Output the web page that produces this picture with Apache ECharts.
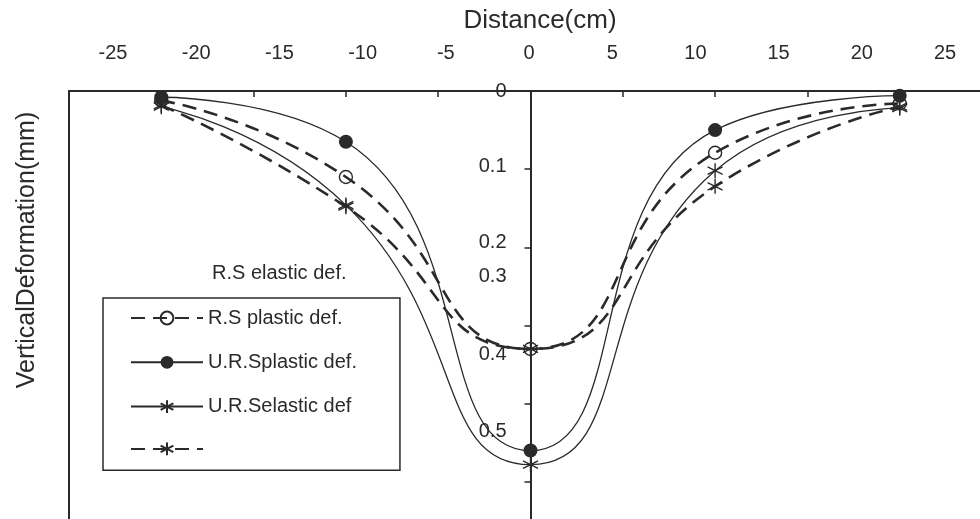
<!DOCTYPE html>
<html>
<head>
<meta charset="utf-8">
<script src="https://cdn.jsdelivr.net/npm/echarts@6/dist/echarts.min.js"></script>
<style>
  html, body { margin: 0; padding: 0; background: #fff; }
  #chart { width: 980px; height: 519px; }
</style>
</head>
<body>
<div id="chart"></div>
<script>
// Distance from the centre line (cm)
const distance = [-20, -10, 0, 10, 20];

// Vertical deformation (mm) for each case
const rsPlastic  = [0.012, 0.110, 0.330, 0.079, 0.016];
const ursPlastic = [0.008, 0.065, 0.460, 0.050, 0.006];
const ursElastic = [0.020, 0.146, 0.478, 0.102, 0.022];
const rsElastic  = [0.018, 0.148, 0.330, 0.122, 0.020];

const seriesNames = ['R.S plastic def.', 'U.R.Splastic def.', 'U.R.Selastic def', 'R.S elastic def.'];

// Depth-axis labels and the depth each one is printed at
const yTickLabels  = ['0', '0.1', '0.2', '0.3', '0.4', '0.5'];
const yTickLabelAt = [0, 0.097, 0.194, 0.2375, 0.3376, 0.4357];

const FONT = "'Liberation Sans', Arial, sans-serif";
const INK = '#2a2a2a';
const STAR = 'path://M0,-10L0,10M-8.7,-5L8.7,5M-8.7,5L8.7,-5';

// plot frame: -25..25 cm across, 0..0.6 mm down
const PLOT_LEFT = 69, PLOT_WIDTH = 923;

const pairs = (vals) => distance.map((x, i) => [x, vals[i]]);

function curve(name, vals, dashed, symbol, size, filled) {
  return {
    name: name,
    type: 'line',
    xAxisIndex: 0,
    yAxisIndex: 0,
    smooth: 0.55,
    data: pairs(vals),
    symbol: symbol,
    symbolSize: size,
    showSymbol: true,
    itemStyle: {
      color: filled ? INK : 'rgba(255,255,255,0)',
      borderColor: INK,
      borderWidth: symbol === 'circle' && filled ? 0 : 1.4
    },
    lineStyle: {
      color: INK,
      width: dashed ? 2.6 : 1.3,
      type: dashed ? [14, 8] : 'solid'
    },
    emphasis: { disabled: true }
  };
}

const chart = echarts.init(document.getElementById('chart'), null, { renderer: 'canvas' });

chart.setOption({
  animation: false,
  backgroundColor: '#ffffff',
  grid: [
    {
      left: PLOT_LEFT, top: 91, width: PLOT_WIDTH, height: 469,
      outerBoundsMode: 'none', containLabel: false,
      show: true, borderColor: INK, borderWidth: 2, backgroundColor: 'transparent'
    },
    { left: 113, top: 91, width: 832, height: 1, outerBoundsMode: 'none', containLabel: false }
  ],
  xAxis: [
    {
      gridIndex: 0, type: 'value', min: -25, max: 25, interval: 5, position: 'top',
      axisLine: { onZero: false, lineStyle: { color: INK, width: 2 } },
      axisTick: { inside: true, length: 6, lineStyle: { color: INK, width: 1.5 } },
      axisLabel: { show: false },
      splitLine: { show: false }
    },
    {
      gridIndex: 1, type: 'value', min: -25, max: 25, interval: 5, position: 'top',
      axisLine: { show: false },
      axisTick: { show: false },
      splitLine: { show: false },
      axisLabel: { margin: 28, fontSize: 20, color: INK, fontFamily: FONT }
    }
  ],
  yAxis: [
    {
      gridIndex: 0, type: 'value', inverse: true, min: 0, max: 0.6, interval: 0.1, position: 'left',
      // the depth axis runs down the 0 cm line
      offset: -PLOT_WIDTH / 2,
      axisLine: { onZero: false, lineStyle: { color: INK, width: 2 } },
      axisTick: { length: 6, lineStyle: { color: INK, width: 1.5 } },
      axisLabel: {
        customValues: yTickLabelAt,
        margin: 24, fontSize: 20, color: INK, fontFamily: FONT,
        formatter: (v) => {
          const i = yTickLabelAt.findIndex((p) => Math.abs(p - v) < 1e-6);
          return i < 0 ? '' : yTickLabels[i];
        }
      },
      splitLine: { show: false }
    },
    { gridIndex: 1, type: 'value', show: false }
  ],
  legend: {
    orient: 'vertical',
    left: 103, top: 298,
    itemWidth: 72, itemHeight: 16, itemGap: 24.3,
    padding: [10, 43, 14, 27],
    borderColor: INK, borderWidth: 1.5,
    selectedMode: false,
    data: seriesNames,
    formatter: (n) => (n === 'R.S elastic def.' ? '' : n),
    textStyle: { fontSize: 20, color: INK, fontFamily: FONT }
  },
  graphic: [
    {
      type: 'text', x: 540, y: 21,
      style: { text: 'Distance(cm)', font: '26px ' + FONT, fill: INK, align: 'center', verticalAlign: 'middle' }
    },
    {
      type: 'text', x: 27, y: 250, rotation: Math.PI / 2,
      style: { text: 'VerticalDeformation(mm)', font: '25px ' + FONT, fill: INK, align: 'center', verticalAlign: 'middle' }
    },
    {
      type: 'text', x: 212, y: 273,
      style: { text: 'R.S elastic def.', font: '20px ' + FONT, fill: INK, align: 'left', verticalAlign: 'middle' }
    }
  ],
  series: [
    curve(seriesNames[0], rsPlastic, true, 'circle', 13, false),
    curve(seriesNames[1], ursPlastic, false, 'circle', 14, true),
    curve(seriesNames[2], ursElastic, false, STAR, 15, true),
    curve(seriesNames[3], rsElastic, true, STAR, 15, true)
  ]
});
</script>
</body>
</html>
